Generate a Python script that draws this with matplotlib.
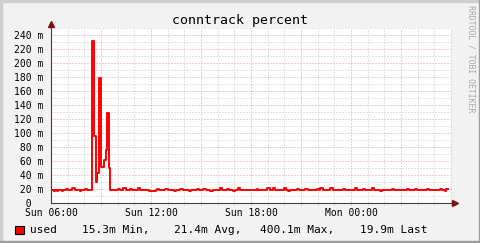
import matplotlib
matplotlib.use('Agg')
import matplotlib.pyplot as plt
from matplotlib.patches import Rectangle

# step data: minutes after Sun 06:00 where the value changes, value in milli-percent
change_min = [0, 11, 14, 22, 25, 40, 43, 54, 61, 76,
              86, 104, 108, 122, 130, 140,
              149, 156, 161, 163, 167, 171, 179, 181, 191, 197, 202, 209, 211,
              223, 241, 248, 259, 270, 284, 292, 313, 320, 338,
              353, 378, 382, 389, 410, 421, 443, 450, 464, 475,
              497, 504, 526, 533, 547, 558, 572, 583, 608, 616,
              634, 641, 655, 662, 673, 680, 706, 720, 742, 745,
              778, 788, 799, 806, 839, 846, 853, 860, 886, 893,
              914, 925, 958, 965, 968, 979, 1004, 1015, 1051, 1058,
              1094, 1102, 1123, 1130, 1156, 1163, 1184, 1192, 1228, 1235,
              1282, 1289, 1310, 1318, 1354, 1361, 1400, 1408, 1418, 1422]
change_val = [18.5, 16.5, 18.5, 17, 18.5, 17.5, 18.5, 19.5, 18.5, 21,
              18.5, 17.5, 18.5, 19.5, 18, 19,
              232, 96, 38, 30, 43, 179, 129, 52, 62, 76, 129, 50, 19,
              18.5, 19.5, 18.5, 21, 18.5, 19.5, 18.5, 21, 19, 18.5,
              16.5, 18.5, 20, 18.5, 19.5, 18.5, 17, 18.5, 20.5, 18.5,
              16.5, 18.5, 20, 18.5, 19.5, 18.5, 16.5, 18.5, 21, 18.5,
              19.5, 18.5, 17, 18.5, 21, 18.5, 19, 18.5, 20, 18.5,
              21, 18.5, 22, 18.5, 22, 18.5, 17.5, 18.5, 20, 18.5,
              19.5, 18.5, 20, 18.5, 21.5, 18.5, 21, 18.5, 19.5, 18.5,
              21, 18.5, 19.5, 18.5, 21, 18.5, 17, 18.5, 19.5, 18.5,
              20.5, 18.5, 19.5, 18.5, 20.5, 18.5, 20, 18.5, 17, 19.9]
end_min = 1431

y_ticks = [0, 20, 40, 60, 80, 100, 120, 140, 160, 180, 200, 220, 240]
y_labels = ['  0  ', ' 20 m', ' 40 m', ' 60 m', ' 80 m', '100 m', '120 m',
            '140 m', '160 m', '180 m', '200 m', '220 m', '240 m']
x_ticks = [0, 6, 12, 18]
x_labels = ['Sun 06:00', 'Sun 12:00', 'Sun 18:00', 'Mon 00:00']

title = 'conntrack percent'
legend_name = 'used'
legend_stats = ['15.3m Min,', '21.4m Avg,', '400.1m Max,', '19.9m Last']
legend_x = [81.7, 174, 260, 360]
watermark = 'RRDTOOL / TOBI OETIKER'

W, H = 481, 243
MONO = 'DejaVu Sans Mono'
BACK = '#F2F2F2'
GRID = '#C8C8C8'
MGRID = '#E89A9A'
ARROW = '#7F1010'

fig = plt.figure(figsize=(W / 100, H / 100), dpi=100, facecolor=BACK)
ax = fig.add_axes([51 / W, 40 / H, 400 / W, 175 / H])
ax.set_facecolor('white')
ax.set_xlim(0, 24)
ax.set_ylim(0, 250)
for s in ax.spines.values():
    s.set_visible(False)

# grid
dots = (0, (1, 2))
for h in range(1, 25):
    col = MGRID if h % 3 == 0 and h < 24 else GRID
    ax.vlines(h, -3, 250, colors=col, linewidth=0.72, linestyles=dots,
              clip_on=False, zorder=1)
for v in range(10, 251, 10):
    col = MGRID if v % 20 == 0 else GRID
    ax.hlines(v, 0, 24, colors=col, linewidth=0.72, linestyles=dots, zorder=1)

# data
t = [m / 60 for m in change_min] + [end_min / 60]
v = change_val + [change_val[-1]]
ax.step(t, v, where='post', color='#FF0000', linewidth=1.4, zorder=3)

# axes with arrows
ax.plot([0, 24.1], [0, 0], color='#404040', linewidth=0.8, clip_on=False, zorder=4)
ax.plot([0, 0], [0, 254], color='#404040', linewidth=0.8, clip_on=False, zorder=4)
ax.plot([24.25], [0], marker='>', markersize=4.5, color=ARROW, clip_on=False, zorder=5)
ax.plot([0], [256], marker='^', markersize=4.5, color=ARROW, clip_on=False, zorder=5)

ax.set_yticks(y_ticks, y_labels, family=MONO, fontsize=7, ha='left')
ax.tick_params(axis='y', length=0, pad=26.6)
ax.set_xticks(x_ticks, x_labels, family=MONO, fontsize=7)
ax.tick_params(axis='x', length=0, pad=3.3)

# title, legend, watermark
fig.text(240.5 / W, 1 - 24 / H, title, family=MONO, fontsize=9.5,
         ha='center', va='baseline')
fig.patches.append(Rectangle((15 / W, 9 / H), 9 / W, 8 / H, transform=fig.transFigure,
                             facecolor='#FF0000', edgecolor='black', linewidth=0.8))
fig.text(30 / W, 10 / H, legend_name, family=MONO, fontsize=8, va='baseline')
for s, x in zip(legend_stats, legend_x):
    fig.text(x / W, 10 / H, s, family=MONO, fontsize=8, va='baseline')
fig.text(471.5 / W, 1 - 5 / H, watermark, family=MONO, fontsize=5.9,
         color='#A8A8A8', rotation=270, ha='center', va='top')

# 3d frame
fig.patches.append(Rectangle((0, 0), 2 / W, 1, transform=fig.transFigure, color='#CFCFCF'))
fig.patches.append(Rectangle((0, 1 - 2 / H), 1, 2 / H, transform=fig.transFigure, color='#CFCFCF'))
fig.patches.append(Rectangle((1 - 2 / W, 0), 2 / W, 1, transform=fig.transFigure, color='#9E9E9E'))
fig.patches.append(Rectangle((0, 0), 1, 2 / H, transform=fig.transFigure, color='#9E9E9E'))

fig.savefig('out.png', dpi=100, facecolor=BACK)
